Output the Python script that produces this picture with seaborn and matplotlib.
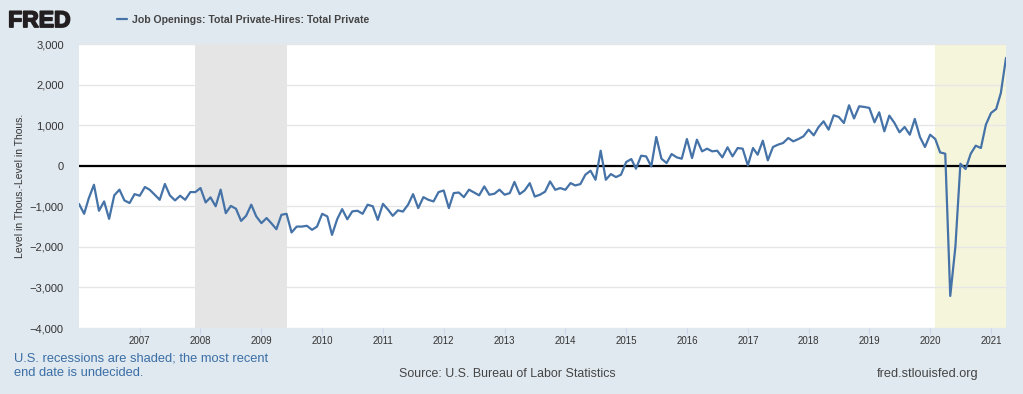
import matplotlib
matplotlib.use("Agg")
import matplotlib.pyplot as plt
import matplotlib.ticker as mticker
import matplotlib.patheffects as pe
from matplotlib.lines import Line2D
import pandas as pd
import seaborn as sns

# monthly, Jan 2006 - Apr 2021, thousands (openings minus hires, total private)
vals_2006_2008 = [-940, -1185, -800, -470, -1110, -880, -1310, -730, -590, -855, -920, -700,
                  -740, -525, -590, -715, -840, -450, -730, -855, -740, -840, -650, -650,
                  -550, -905, -780, -1000, -590, -1170, -990, -1060]
vals_2008_2010 = [-1360, -1235, -960, -1250, -1415, -1290, -1415, -1565, -1210, -1185, -1645,
                  -1500, -1500, -1480, -1580, -1500, -1185, -1250, -1705, -1320, -1070, -1320,
                  -1125, -1110, -1185, -960, -1000, -1335, -940]
vals_2011_2013 = [-1085, -1235, -1100, -1130, -960, -700, -1045, -775, -840, -880, -650,
                  -610, -1045, -675, -660, -775, -590, -660, -730, -510, -715, -690, -590,
                  -715, -675, -400, -700, -610, -430, -760, -715, -640]
vals_2013_2016 = [-387, -593, -551, -593, -428, -486, -453, -222, -123, -346, 370, -346,
                  -206, -280, -222, 90, 165, -74, 247, 230, -16, 708, 173, 66, 288, 206,
                  173, 658, 189, 642]
vals_2016_2018 = [354, 420, 354, 370, 206, 453, 230, 436, 420, 8, 436, 272, 617, 132, 461,
                  519, 560, 683, 601, 658, 724, 889, 749, 947, 1095, 889, 1243, 1202, 1053,
                  1490]
vals_2018_2021 = [1165, 1465, 1449, 1424, 1070, 1317, 848, 1235, 1053, 823, 955, 765, 1153,
                  708, 461, 765, 658, 329, 296, -3210, -1992, 49, -82, 296, 494, 436, 1012,
                  1300, 1399, 1794, 2659]

values = (vals_2006_2008 + vals_2008_2010 + vals_2011_2013 + vals_2013_2016
          + vals_2016_2018 + vals_2018_2021)
dates = pd.date_range("2006-01-01", periods=len(values), freq="MS")
df = pd.DataFrame({"date": dates, "value": values})

tick_years = list(range(2007, 2022))

recession_start = ["2007-12-01", "2020-02-01"]
recession_end = ["2009-06-01", "2021-04-01"]
recession_color = ["#e5e5e5", "#f5f5dc"]

series_name = "Job Openings: Total Private-Hires: Total Private"
line_color = "#4572a7"
bg = "#e1e9f0"

sns.set_theme(style="white")
plt.rcParams["font.family"] = ["Liberation Sans", "DejaVu Sans"]

fig = plt.figure(figsize=(10.23, 3.94), dpi=100, facecolor=bg)
ax = fig.add_axes([0.0772, 0.1675, 0.9062, 0.7208])
ax.set_facecolor("white")

for s, e, c in zip(recession_start, recession_end, recession_color):
    ax.axvspan(pd.Timestamp(s), pd.Timestamp(e), color=c, lw=0, zorder=0)

ax.yaxis.grid(True, color="#e6e6e6", lw=1, zorder=1)
ax.axhline(0, color="black", lw=1.6, zorder=2)
sns.lineplot(data=df, x="date", y="value", ax=ax, color=line_color, lw=1.6, zorder=3)

ax.set_xlim(dates[0], dates[-1])
ax.set_ylim(-4000, 3000)
ax.yaxis.set_major_locator(mticker.MultipleLocator(1000))
ax.yaxis.set_major_formatter(mticker.StrMethodFormatter("{x:,.0f}"))
ax.set_xticks([pd.Timestamp(f"{y}-01-01") for y in tick_years])
ax.set_xticklabels([str(y) for y in tick_years])

for sp in ax.spines.values():
    sp.set_visible(False)
ax.tick_params(axis="y", length=0, pad=11, labelsize=8, labelcolor="#333333")
ax.tick_params(axis="x", length=4, width=0.8, color="#ccd6eb", pad=2,
               labelsize=7, labelcolor="#333333", bottom=True)
ax.set_xlabel("")
ax.set_ylabel("Level in Thous.-Level in Thous.", fontsize=7.5, color="#333333")
ax.yaxis.set_label_coords(-0.058, 0.5)

# header
fig.text(0.008, 0.977, "FRED", fontsize=16.5, fontweight="bold", color="#231f20",
         va="top", ha="left",
         path_effects=[pe.withStroke(linewidth=1.2, foreground="#231f20")])
fig.legend(handles=[Line2D([], [], color=line_color, lw=1.6)], labels=[series_name],
           loc="center left", bbox_to_anchor=(0.105, 0.949), frameon=False,
           handlelength=1.0, handletextpad=0.4,
           prop={"size": 7.6, "weight": "bold"}, labelcolor="#444444")

# footer
fig.text(0.014, 0.106, "U.S. recessions are shaded; the most recent\nend date is undecided.",
         fontsize=9.3, color="#3a6ea5", va="top", ha="left", linespacing=1.3)
fig.text(0.496, 0.052, "Source: U.S. Bureau of Labor Statistics", fontsize=8.9,
         color="#444444", ha="center", va="center")
fig.text(0.956, 0.052, "fred.stlouisfed.org", fontsize=9.2, color="#444444",
         ha="right", va="center")

fig.savefig("out.png", dpi=100, facecolor=bg)
